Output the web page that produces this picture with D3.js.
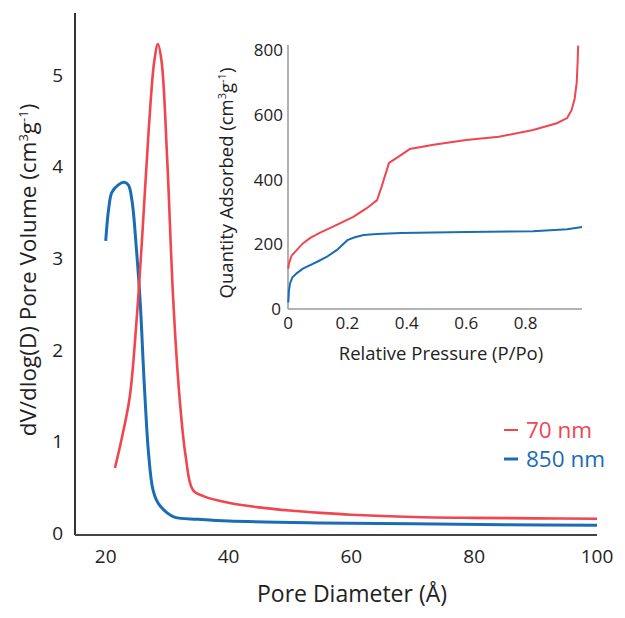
<!DOCTYPE html>
<html><head><meta charset="utf-8">
<script src="https://cdn.jsdelivr.net/npm/d3@7"></script>
<style>body{margin:0;background:#fff}svg{display:block;font-family:"Open Sans",sans-serif}</style>
</head><body>
<svg id="c" width="625" height="618"></svg>
<script>
// Main chart: pore size distribution
const xTicksMain = [20, 40, 60, 80, 100];
const yTicksMain = [0, 1, 2, 3, 4, 5];
const red70 = [[21.5,0.71],[22.5,1.0],[23.9,1.48],[25,2.3],[26,3.3],[27,4.4],[27.9,5.15],[28.5,5.34],[29.1,5.15],[30,4.1],[31,2.54],[32,1.5],[33,0.85],[34.2,0.47],[36,0.4],[40,0.33],[45,0.28],[50,0.245],[55,0.22],[60,0.2],[70,0.175],[80,0.165],[90,0.16],[100,0.155]];
const blue850 = [[20,3.19],[20.5,3.55],[21,3.72],[22,3.8],[23,3.83],[23.7,3.8],[24.3,3.62],[25,3.1],[25.6,2.54],[26.3,1.6],[27,0.85],[27.7,0.47],[28.5,0.33],[30,0.22],[31.3,0.17],[35,0.15],[40,0.13],[55,0.11],[70,0.1],[85,0.09],[100,0.085]];
// Inset: isotherms
const xTicksInset = [0, 0.2, 0.4, 0.6, 0.8];
const yTicksInset = [0, 200, 400, 600, 800];
const redIso = [[0.001,125],[0.003,140],[0.012,165],[0.03,183],[0.05,203],[0.075,220],[0.11,237],[0.15,254],[0.22,285],[0.265,312],[0.30,337],[0.315,378],[0.34,452],[0.37,470],[0.41,495],[0.49,508],[0.60,523],[0.71,533],[0.825,554],[0.905,575],[0.94,591],[0.955,616],[0.965,650],[0.972,700],[0.975,760],[0.977,815]];
const blueIso = [[0.001,20],[0.003,55],[0.007,80],[0.015,98],[0.03,111],[0.05,125],[0.075,136],[0.1,147],[0.13,161],[0.165,183],[0.2,213],[0.225,222],[0.255,229],[0.3,232],[0.38,235],[0.6,238],[0.825,241],[0.94,247],[0.99,254]];
const legendLabels = ["70 nm", "850 nm"];
const RED = "#ef4650", BLUE = "#1b6cb4";

const svg = d3.select("#c");

// main scales
const x = d3.scaleLinear().domain([15, 100]).range([75, 597]);
const y = d3.scaleLinear().domain([0, 5.68]).range([533, 13]);

const gm = svg.append("g");
gm.append("line").attr("x1", x(15)).attr("x2", x(15)).attr("y1", y(5.68)).attr("y2", 535).attr("stroke", "#333").attr("stroke-width", 2);
gm.append("line").attr("x1", 75).attr("x2", x(100)).attr("y1", 535).attr("y2", 535).attr("stroke", "#444").attr("stroke-width", 2);
gm.selectAll("text.yt").data(yTicksMain).join("text").attr("class","yt")
  .attr("x", 63).attr("y", d => y(d)).attr("dy", "0.35em").attr("text-anchor", "end")
  .attr("font-size", 19).attr("fill", "#222").text(d => d);
gm.selectAll("text.xt").data(xTicksMain).join("text").attr("class","xt")
  .attr("x", d => x(d)).attr("y", 563).attr("text-anchor", "middle")
  .attr("font-size", 19).attr("fill", "#222").text(d => d);
gm.append("text").attr("x", 352).attr("y", 602).attr("text-anchor", "middle").attr("font-size", 23).attr("fill", "#222").text("Pore Diameter (Å)");
const yt = gm.append("text").attr("transform", "translate(36,270) rotate(-90)").attr("text-anchor", "middle").attr("font-size", 22.5).attr("fill", "#222");
yt.append("tspan").text("dV/dlog(D) Pore Volume (cm");
yt.append("tspan").attr("font-size", 13).attr("dy", -8).text("3");
yt.append("tspan").attr("dy", 8).text("g");
yt.append("tspan").attr("font-size", 13).attr("dy", -8).text("-1");
yt.append("tspan").attr("dy", 8).text(")");

gm.append("path").datum(blue850).attr("d", d3.line().x(d => x(d[0])).y(d => y(d[1])).curve(d3.curveCatmullRom)).attr("fill", "none").attr("stroke", BLUE).attr("stroke-width", 3);
gm.append("path").datum(red70).attr("d", d3.line().x(d => x(d[0])).y(d => y(d[1])).curve(d3.curveCatmullRom)).attr("fill", "none").attr("stroke", RED).attr("stroke-width", 2.6);

// legend
gm.append("line").attr("x1", 504).attr("x2", 518).attr("y1", 430).attr("y2", 430).attr("stroke", RED).attr("stroke-width", 2);
gm.append("line").attr("x1", 504).attr("x2", 518).attr("y1", 459).attr("y2", 459).attr("stroke", BLUE).attr("stroke-width", 3);
gm.append("text").attr("x", 526).attr("y", 438).attr("font-size", 22.5).attr("fill", RED).text(legendLabels[0]);
gm.append("text").attr("x", 526).attr("y", 467).attr("font-size", 22.5).attr("fill", BLUE).attr("font-weight", 500).text(legendLabels[1]);

// inset
const xi = d3.scaleLinear().domain([0, 1]).range([288, 585]);
const yi = d3.scaleLinear().domain([0, 800]).range([309, 50.5]);
const gi = svg.append("g");
gi.append("line").attr("x1", 288).attr("x2", 288).attr("y1", 45).attr("y2", 309).attr("stroke", "#999").attr("stroke-width", 1.5);
gi.append("line").attr("x1", 288).attr("x2", xi(0.99)).attr("y1", 309).attr("y2", 309).attr("stroke", "#999").attr("stroke-width", 1.5);
gi.selectAll("text.yt").data(yTicksInset).join("text").attr("class","yt")
  .attr("x", d => d === 0 ? 281 : 283).attr("y", d => yi(d)).attr("dy", "0.35em").attr("text-anchor", "end")
  .attr("font-size", 17).attr("fill", "#222").text(d => d);
gi.selectAll("text.xt").data(xTicksInset).join("text").attr("class","xt")
  .attr("x", d => xi(d)).attr("y", 329).attr("text-anchor", "middle")
  .attr("font-size", 17).attr("fill", "#222").text(d => d);
gi.append("text").attr("x", 441).attr("y", 360).attr("text-anchor", "middle").attr("font-size", 18.5).attr("fill", "#222").text("Relative Pressure (P/Po)");
const yti = gi.append("text").attr("transform", "translate(233,183) rotate(-90)").attr("text-anchor", "middle").attr("font-size", 18.5).attr("fill", "#222");
yti.append("tspan").text("Quantity Adsorbed (cm");
yti.append("tspan").attr("font-size", 11).attr("dy", -7).text("3");
yti.append("tspan").attr("dy", 7).text("g");
yti.append("tspan").attr("font-size", 11).attr("dy", -7).text("-1");
yti.append("tspan").attr("dy", 7).text(")");
const lineI = d3.line().x(d => xi(d[0])).y(d => yi(d[1]));
gi.append("path").datum(blueIso).attr("d", lineI).attr("fill", "none").attr("stroke", BLUE).attr("stroke-width", 2);
gi.append("path").datum(redIso).attr("d", lineI).attr("fill", "none").attr("stroke", RED).attr("stroke-width", 2);
</script>
</body></html>
